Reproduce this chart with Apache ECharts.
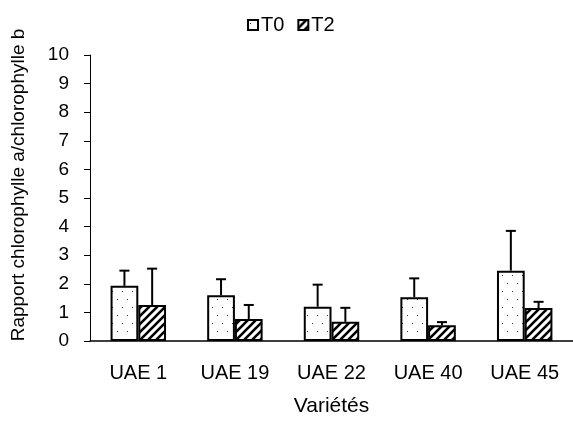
<!DOCTYPE html>
<html>
<head>
<meta charset="utf-8">
<script src="https://cdn.jsdelivr.net/npm/echarts@6/dist/echarts.min.js"></script>
<style>
html,body{margin:0;padding:0;background:#fff;}
#chart{width:573px;height:423px;}
</style>
</head>
<body>
<div id="chart"></div>
<script>
const categories = ['UAE 1', 'UAE 19', 'UAE 22', 'UAE 40', 'UAE 45'];
const t0Values = [1.93, 1.60, 1.20, 1.53, 2.46];
const t0Errors = [0.53, 0.56, 0.77, 0.66, 1.39];
const t2Values = [1.26, 0.77, 0.67, 0.55, 1.15];
const t2Errors = [1.27, 0.49, 0.49, 0.11, 0.22];
const yTicks = [0, 1, 2, 3, 4, 5, 6, 7, 8, 9, 10];

function dotPattern() {
  const c = document.createElement('canvas');
  c.width = 10; c.height = 16;
  const g = c.getContext('2d');
  g.fillStyle = '#fff'; g.fillRect(0, 0, 10, 16);
  g.fillStyle = '#333';
  g.fillRect(2, 3, 1, 1);
  g.fillRect(7, 11, 1, 1);
  return c;
}
function hatchPattern() {
  const s = 8;
  const c = document.createElement('canvas');
  c.width = s; c.height = s;
  const g = c.getContext('2d');
  g.fillStyle = '#fff'; g.fillRect(0, 0, s, s);
  g.strokeStyle = '#000'; g.lineWidth = 2.6;
  g.beginPath();
  g.moveTo(-2, s + 2); g.lineTo(s + 2, -2);
  g.moveTo(-2, 2); g.lineTo(2, -2);
  g.moveTo(s - 2, s + 2); g.lineTo(s + 2, s - 2);
  g.stroke();
  return c;
}

const FONT = '"Liberation Sans", Arial, sans-serif';
const BAR_FRAC = 0.287;

function errSeries(name, values, errors, sign) {
  return {
    type: 'custom',
    name: name + '_err',
    z: 5,
    encode: { x: 0, y: [1, 2] },
    data: values.map((v, i) => [i, v, v + errors[i]]),
    renderItem: function (params, api) {
      const band = api.size([1, 0])[0];
      const off = sign * band * BAR_FRAC / 2;
      const p0 = api.coord([api.value(0), api.value(1)]);
      const p1 = api.coord([api.value(0), api.value(2)]);
      const x = p0[0] + off;
      const half = 5;
      return {
        type: 'group',
        children: [
          { type: 'line', shape: { x1: x, y1: p0[1], x2: x, y2: p1[1] }, style: { stroke: '#000', lineWidth: 2 } },
          { type: 'line', shape: { x1: x - half, y1: p1[1], x2: x + half, y2: p1[1] }, style: { stroke: '#000', lineWidth: 2 } }
        ]
      };
    }
  };
}

const chart = echarts.init(document.getElementById('chart'), null, { renderer: 'canvas' });
chart.setOption({
  animation: false,
  backgroundColor: '#fff',
  textStyle: { fontFamily: FONT, color: '#000' },
  legend: {
    data: ['T0', 'T2'],
    icon: 'rect',
    left: 242,
    top: 10,
    itemWidth: 10,
    itemHeight: 10,
    itemGap: 13,
    itemStyle: { borderColor: '#000', borderWidth: 2 },
    textStyle: { fontFamily: FONT, fontSize: 20, color: '#000', padding: [0, 0, 0, -2] }
  },
  grid: { left: 90, right: -6, top: 55, bottom: 82, containLabel: false },
  xAxis: {
    type: 'category',
    data: categories,
    name: 'Variétés',
    nameLocation: 'middle',
    nameGap: 55,
    nameTextStyle: { fontFamily: FONT, fontSize: 21, color: '#000' },
    axisLine: { lineStyle: { color: '#000', width: 1.5 } },
    axisTick: { show: false },
    axisLabel: { fontFamily: FONT, fontSize: 20, color: '#000', margin: 22 }
  },
  yAxis: {
    type: 'value',
    min: yTicks[0],
    max: yTicks[yTicks.length - 1],
    interval: 1,
    name: 'Rapport chlorophylle a/chlorophylle b',
    nameLocation: 'middle',
    nameRotate: 90,
    nameGap: 62,
    nameTextStyle: { fontFamily: FONT, fontSize: 19, color: '#000', padding: [0, 0, 0, 26] },
    axisLine: { show: true, lineStyle: { color: '#000', width: 1 } },
    axisTick: { show: true, inside: false, length: 6, lineStyle: { color: '#000' } },
    splitLine: { show: false },
    axisLabel: { fontFamily: FONT, fontSize: 19, color: '#000', margin: 21 }
  },
  series: [
    {
      type: 'bar', name: 'T0', data: t0Values,
      barWidth: (BAR_FRAC * 100) + '%', barGap: '0%',
      itemStyle: { color: { image: dotPattern(), repeat: 'repeat' }, borderColor: '#000', borderWidth: 2 }
    },
    {
      type: 'bar', name: 'T2', data: t2Values,
      barWidth: (BAR_FRAC * 100) + '%', barGap: '0%',
      itemStyle: { color: { image: hatchPattern(), repeat: 'repeat' }, borderColor: '#000', borderWidth: 2 }
    },
    errSeries('T0', t0Values, t0Errors, -1),
    errSeries('T2', t2Values, t2Errors, 1)
  ]
});
</script>
</body>
</html>
